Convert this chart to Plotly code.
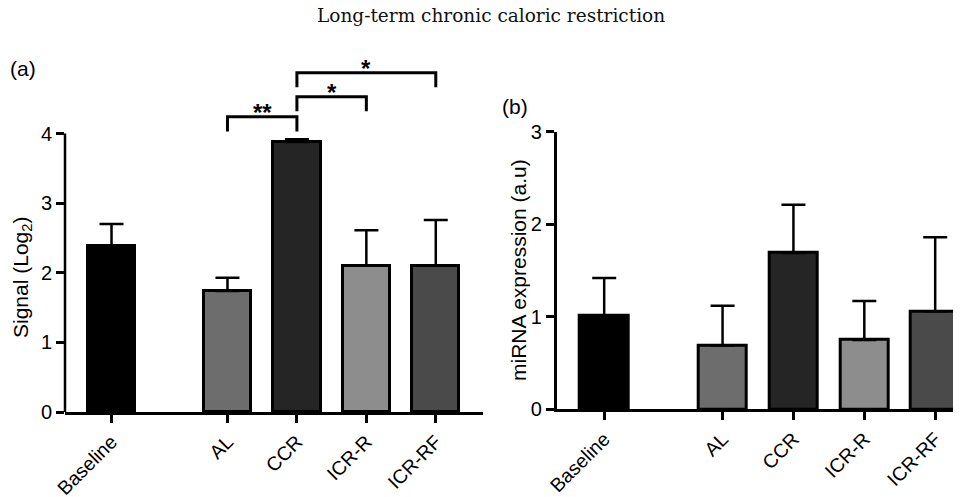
import plotly.graph_objects as go

# ---------------- data ----------------
categories = ["Baseline", "AL", "CCR", "ICR-R", "ICR-RF"]

signal_mean = [2.38, 1.74, 3.88, 2.10, 2.10]
signal_upper = [2.70, 1.93, 3.92, 2.61, 2.76]

mirna_mean = [1.01, 0.69, 1.69, 0.75, 1.06]
mirna_upper = [1.42, 1.12, 2.21, 1.17, 1.86]

bar_colors = ["#000000", "#6d6d6d", "#252525", "#8d8d8d", "#4a4a4a"]

# significance brackets (panel a): index pairs into categories
sig_from = [1, 2, 2]
sig_to = [2, 3, 4]
sig_heights = [4.24, 4.53, 4.875]
sig_labels = ["**", "*", "*"]

title_text = "Long-term chronic caloric restriction"
ytitle_a = "Signal (Log<sub>2</sub>)"
ytitle_b = "miRNA expression (a.u)"

# ---------------- layout helpers ----------------
W, H = 961, 497
OFF = 8  # the page body adds an 8px margin around the figure


def px(x):
    return (x - OFF) / W


def py(y):
    return 1 - (y - OFF) / H


GAP = 1.67
xpos = [0.0] + [GAP + i for i in range(len(categories) - 1)]
LEG = 0.21
FONT = "Liberation Sans, Arial, sans-serif"

fig = go.Figure()


def add_bars(means, uppers, xa, ya):
    fig.add_trace(go.Bar(
        x=xpos, y=means, width=0.68,
        marker=dict(color=bar_colors, line=dict(color="black", width=3)),
        error_y=dict(type="data", symmetric=False,
                     array=[u - m for u, m in zip(uppers, means)],
                     arrayminus=[0] * len(means),
                     color="black", thickness=2.5, width=12),
        xaxis=xa, yaxis=ya, showlegend=False, hoverinfo="skip",
    ))


add_bars(signal_mean, signal_upper, "x", "y")
add_bars(mirna_mean, mirna_upper, "x2", "y2")

# brackets
for f, t, h, lab in zip(sig_from, sig_to, sig_heights, sig_labels):
    x0, x1 = xpos[f], xpos[t]
    fig.add_trace(go.Scatter(
        x=[x0, x0, x1, x1], y=[h - LEG, h, h, h - LEG],
        mode="lines", line=dict(color="black", width=3),
        xaxis="x", yaxis="y", showlegend=False, hoverinfo="skip",
    ))
    fig.add_annotation(x=(x0 + x1) / 2, y=h, xref="x", yref="y",
                       text="<b>" + lab + "</b>",
                       showarrow=False, yanchor="middle", yshift=4,
                       font=dict(family=FONT, size=24, color="black"))

axis_common = dict(showgrid=False, zeroline=False, linecolor="black",
                   linewidth=2.5, ticks="outside", ticklen=8, tickwidth=2.5,
                   tickcolor="black", automargin=False)

fig.update_layout(
    width=W, height=H,
    margin=dict(l=0, r=0, t=0, b=0, autoexpand=False),
    paper_bgcolor="white", plot_bgcolor="white",
    bargap=0,
    font=dict(family=FONT, color="black"),
    xaxis=dict(domain=[px(65), px(483)], range=[-0.67, 5.35],
               tickvals=xpos, ticktext=categories, tickangle=-45,
               tickfont=dict(size=19.5), showline=True, **axis_common),
    yaxis=dict(domain=[py(412), py(57)], range=[0, 5.1],
               tickvals=[0, 1, 2, 3, 4], tickfont=dict(size=20),
               showline=False, **axis_common),
    xaxis2=dict(domain=[px(556.7), px(969)], range=[-0.67, 5.147],
                tickvals=xpos, ticktext=categories, tickangle=-45,
                tickfont=dict(size=19.5), showline=True, anchor="y2",
                **axis_common),
    yaxis2=dict(domain=[py(409.3), py(131.7)], range=[0, 3],
                tickvals=[0, 1, 2, 3], tickfont=dict(size=20),
                showline=True, anchor="x2", **axis_common),
)

# y axis line for panel (a) spans only the tick range
fig.add_shape(type="line", xref="x domain", yref="y", x0=0, x1=0, y0=0, y1=4,
              line=dict(color="black", width=2.5))

# axis titles
fig.add_annotation(x=px(22), y=py(278), xref="paper", yref="paper",
                   text=ytitle_a, textangle=-90, showarrow=False,
                   xanchor="center", yanchor="middle",
                   font=dict(family=FONT, size=21))
fig.add_annotation(x=px(518), y=py(270), xref="paper", yref="paper",
                   text=ytitle_b, textangle=-90, showarrow=False,
                   xanchor="center", yanchor="middle",
                   font=dict(family=FONT, size=21))

fig.add_annotation(x=px(491), y=py(16), xref="paper", yref="paper",
                   text=title_text, showarrow=False, xanchor="center",
                   yanchor="middle", borderpad=0,
                   font=dict(family="DejaVu Serif, serif", size=18.5, color="#111111"))
fig.add_annotation(x=px(8), y=py(68), xref="paper", yref="paper",
                   text="(a)", showarrow=False, xanchor="left", yanchor="middle",
                   font=dict(family=FONT, size=21))
fig.add_annotation(x=px(500), y=py(107), xref="paper", yref="paper",
                   text="(b)", showarrow=False, xanchor="left", yanchor="middle",
                   font=dict(family=FONT, size=21))

fig.write_html("out.html")
